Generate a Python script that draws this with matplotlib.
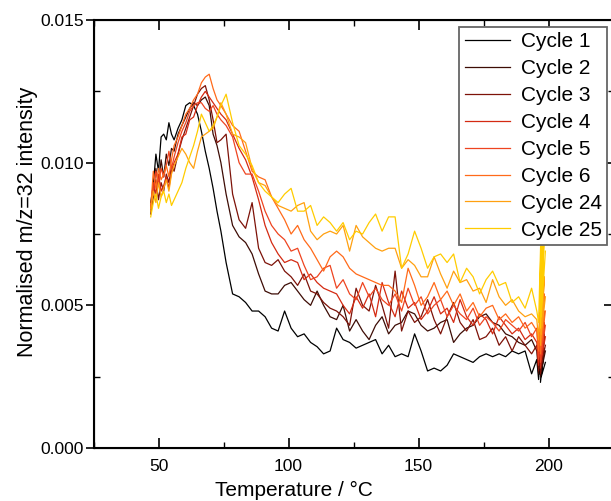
import matplotlib
matplotlib.use("Agg")
from matplotlib import pyplot as plt
from matplotlib.ticker import MultipleLocator
import numpy as np

plt.rcParams['font.family'] = ['Liberation Sans', 'DejaVu Sans']

# temperature grid (deg C); last 8 points are the hold at ~197 C
temp = [47, 48, 49, 50, 51, 52, 53, 54, 55, 56, 57.5, 59, 60.5, 62, 63.5, 65, 66.5, 68, 69.5, 71, 72.5, 74,
        76, 78.5, 81, 83.5, 86, 88.5, 91, 93.5, 96, 98.5,
        101, 103.5, 106, 108.5, 111, 113.5, 116, 118.5, 121, 123.5,
        126, 128.5, 131, 133.5, 136, 138.5, 141, 143.5, 146, 148.5,
        151, 153.5, 156, 158.5, 161, 163.5, 166, 168.5, 171, 173.5,
        176, 178.5, 181, 183.5, 186, 188.5, 191, 193.5, 195.5,
        196.2, 197.4, 196.6, 198.0, 196.9, 198.4, 197.2, 198.8]

# normalised intensity, in units of 1e-3
cycle1 = [8.6, 9.2, 10.3, 9.7, 10.9, 11.0, 10.8, 11.4, 11.0, 10.8, 11.2, 11.5, 12.0, 12.1, 12.0, 11.7, 11.1, 10.4, 9.8, 9.1, 8.3, 7.6,
          6.5, 5.4, 5.3, 5.1, 4.8, 4.8, 4.6, 4.2, 4.1, 4.8,
          4.2, 3.9, 4.0, 3.7, 3.55, 3.3, 3.4, 4.2, 3.8, 3.7,
          3.5, 3.6, 3.7, 3.8, 3.3, 3.6, 3.2, 3.3, 3.2, 4.0,
          3.4, 2.7, 2.8, 2.7, 2.9, 3.3, 3.2, 3.1, 3.0, 3.2,
          3.3, 3.2, 3.3, 3.2, 3.4, 3.3, 3.4, 2.6, 3.1,
          2.4, 4.2, 2.6, 3.8, 2.3, 3.5, 2.5, 3.0]
cycle2 = [8.3, 9.0, 9.8, 9.2, 10.1, 9.5, 10.3, 9.9, 10.5, 10.4, 11.0, 11.3, 11.6, 11.9, 12.1, 12.0, 12.2, 12.3, 12.0, 11.0, 10.6, 10.0,
          8.9, 7.8, 7.4, 7.2, 6.8, 6.1, 5.5, 5.4, 5.4, 5.7,
          5.8, 5.5, 5.2, 5.0, 5.5, 5.0, 4.6, 4.5, 5.0, 4.1,
          4.5, 4.1, 3.8, 4.3, 4.6, 4.0, 4.3, 4.4, 4.8, 4.7,
          4.3, 4.1, 4.2, 4.4, 4.5, 3.7, 4.0, 4.2, 4.3, 4.6,
          4.7, 4.4, 4.3, 4.0, 3.9, 3.7, 3.6, 3.8, 3.4,
          2.6, 4.6, 2.8, 4.2, 2.5, 3.9, 2.7, 3.4]
cycle3 = [8.2, 8.8, 9.4, 8.7, 9.3, 9.0, 9.6, 9.3, 9.9, 9.7, 10.3, 10.8, 11.2, 11.6, 12.0, 12.4, 12.6, 12.7, 12.2, 11.5, 10.7, 10.8,
          11.0, 8.9, 8.0, 7.7, 8.6, 7.0, 6.5, 6.4, 6.6, 6.2,
          6.0, 5.7, 6.1, 5.5, 5.4, 5.1, 4.9, 4.8, 4.6, 4.3,
          5.6, 5.0, 4.8, 5.7, 5.0, 4.2, 6.2, 4.1, 4.8, 4.4,
          4.6, 5.2, 4.5, 4.0, 4.6, 5.1, 4.4, 4.1, 4.5, 3.8,
          3.9, 4.2, 3.6, 3.9, 3.4, 3.9, 3.6, 3.3, 3.6,
          2.7, 4.8, 3.0, 4.4, 2.6, 4.0, 2.9, 3.6]
cycle4 = [8.4, 9.3, 8.9, 9.6, 9.0, 9.2, 9.5, 9.1, 9.7, 10.0, 10.3, 10.9, 11.0, 11.5, 11.6, 12.0, 12.3, 12.5, 12.3, 12.1, 11.9, 11.7,
          11.5, 11.0, 10.5, 10.1, 9.5, 8.7, 7.8, 7.2, 6.8, 6.5,
          6.6, 6.5, 5.9, 6.1, 5.8, 5.6, 5.5, 5.4, 5.0, 4.7,
          5.3, 4.9, 5.4, 4.6, 5.8, 5.1, 4.6, 5.5, 4.9, 5.1,
          4.5, 4.8, 5.3, 4.7, 4.9, 4.4, 5.2, 4.6, 4.3, 4.7,
          4.5, 4.0, 4.6, 4.3, 4.0, 4.2, 3.8, 4.0, 3.7,
          2.9, 5.2, 3.2, 4.8, 2.8, 4.4, 3.1, 3.9]
cycle5 = [8.5, 9.0, 9.7, 9.3, 9.8, 9.5, 9.9, 10.4, 9.8, 10.2, 10.7, 11.1, 11.4, 11.8, 12.0, 12.1, 12.1, 11.9, 11.8, 12.0, 11.7, 11.5,
          11.3, 10.9, 10.0, 9.6, 9.6, 9.0, 8.3, 7.8, 7.5, 7.3,
          6.9, 7.0, 6.4, 5.9, 6.0, 6.3, 6.4, 5.6, 5.9, 5.4,
          5.2, 5.8, 5.3, 5.6, 5.2, 5.0, 5.4, 4.8, 5.6, 5.0,
          5.3, 4.7, 5.0, 5.2, 4.6, 5.0, 4.7, 4.5, 4.9, 4.3,
          4.6, 4.4, 4.1, 4.5, 4.3, 4.1, 4.4, 3.9, 4.2,
          3.1, 5.6, 3.4, 5.2, 3.0, 4.8, 3.3, 4.3]
cycle6 = [8.4, 9.7, 9.1, 9.8, 9.4, 9.6, 9.9, 9.5, 10.1, 10.6, 10.9, 11.3, 11.7, 11.9, 12.2, 12.4, 12.8, 13.0, 13.1, 12.6, 12.2, 12.0,
          11.7, 11.3, 11.1, 10.4, 9.7, 9.5, 9.4, 8.8, 8.4, 8.0,
          7.5, 7.8, 7.3, 7.0, 6.6, 6.2, 6.7, 6.9, 6.7, 6.3,
          6.1, 6.0, 5.9, 5.8, 5.7, 5.7, 5.5, 5.1, 6.3, 5.7,
          5.0, 5.3, 5.8, 5.2, 5.5, 5.0, 5.4, 4.8, 5.1, 4.6,
          4.9, 5.0, 4.5, 4.7, 4.4, 4.6, 4.2, 4.4, 4.1,
          3.4, 6.2, 3.7, 5.8, 3.3, 5.4, 3.6, 4.8]
cycle24 = [8.3, 9.0, 8.6, 9.3, 8.8, 9.1, 9.4, 9.0, 9.6, 9.9, 10.2, 10.5, 10.3, 10.0, 9.8, 10.4, 10.9, 11.0, 11.1, 11.2, 11.6, 12.1,
           11.7, 11.0, 10.9, 10.7, 9.8, 9.3, 9.2, 8.8, 8.5, 8.4,
           8.3, 8.5, 8.6, 7.6, 7.3, 7.5, 7.6, 7.5, 7.8, 6.9,
           7.8, 7.4, 7.2, 7.0, 6.9, 7.0, 7.0, 6.3, 6.6, 6.4,
           6.0, 6.0, 6.7, 6.1, 5.6, 6.2, 5.8, 5.9, 5.5, 5.6,
           5.1, 5.9, 5.3, 5.0, 5.2, 4.8, 4.6, 4.7, 4.5,
           3.8, 7.2, 4.1, 6.6, 3.6, 6.0, 4.0, 5.3]
cycle25 = [8.1, 8.6, 8.9, 8.4, 8.8, 9.0, 8.6, 8.9, 8.5, 8.7, 9.0, 9.3, 9.8, 10.2, 10.6, 11.1, 11.7, 11.4, 11.1, 11.3, 11.6, 12.0,
           12.4, 11.4, 10.6, 10.3, 9.9, 9.3, 9.0, 8.8, 8.6, 8.9,
           9.1, 8.3, 8.3, 8.5, 7.8, 8.1, 7.9, 7.6, 7.9, 7.3,
           7.6, 7.5, 7.9, 8.2, 7.6, 8.1, 8.1, 6.3, 6.8, 7.6,
           7.0, 6.3, 6.7, 6.8, 6.5, 6.8, 5.8, 6.3, 6.0, 5.4,
           5.9, 6.2, 5.7, 5.8, 5.1, 5.3, 4.9, 5.6, 4.8,
           4.4, 8.6, 4.8, 8.1, 4.2, 7.6, 4.6, 6.9]

labels = ["Cycle 1", "Cycle 2", "Cycle 3", "Cycle 4", "Cycle 5", "Cycle 6", "Cycle 24", "Cycle 25"]
series = [cycle1, cycle2, cycle3, cycle4, cycle5, cycle6, cycle24, cycle25]
colors = ["#000000", "#3d0c05", "#7d1208", "#d42a12", "#ee4420", "#ff6a1a", "#ffa010", "#ffcc00"]

fig = plt.figure(figsize=(6.11, 5.01), dpi=100)
ax = fig.add_axes([93.5 / 611, 53 / 501, 520 / 611, 428 / 501])

for vals, lab, col in zip(series, labels, colors):
    ax.plot(temp, np.array(vals) * 1e-3, color=col, lw=0.9, label=lab)

ax.set_xlim(25, 225)
ax.set_ylim(0, 0.015)
ax.xaxis.set_major_locator(MultipleLocator(50))
ax.xaxis.set_minor_locator(MultipleLocator(25))
ax.yaxis.set_major_locator(MultipleLocator(0.005))
ax.yaxis.set_minor_locator(MultipleLocator(0.0025))
ax.yaxis.set_major_formatter(matplotlib.ticker.FormatStrFormatter('%.3f'))

ax.tick_params(axis='x', which='both', direction='in', top=True, labelsize=12.5, pad=8)
ax.tick_params(axis='x', which='major', length=7, width=1.2)
ax.tick_params(axis='x', which='minor', length=4, width=1.0)
ax.tick_params(axis='y', which='major', direction='out', right=False, length=6, width=1.2, labelsize=12.5, pad=1)
ax.tick_params(axis='y', which='minor', direction='in', length=4, width=1.0)
for s in ax.spines.values():
    s.set_linewidth(1.5)

# inward ticks on the right spine
ax_r = ax.twinx()
ax_r.set_ylim(ax.get_ylim())
ax_r.yaxis.set_major_locator(MultipleLocator(0.005))
ax_r.yaxis.set_minor_locator(MultipleLocator(0.0025))
ax_r.tick_params(axis='y', which='both', direction='in', labelright=False)
ax_r.tick_params(axis='y', which='major', length=7, width=1.2)
ax_r.tick_params(axis='y', which='minor', length=4, width=1.0)

ax.set_xlabel("Temperature / °C", fontsize=15)
ax.set_ylabel("Normalised m/z=32 intensity", fontsize=15.5)
ax.xaxis.set_label_coords((294 - 93.5) / 520, (448 - 481) / 428)
ax.yaxis.set_label_coords((38 - 93.5) / 520, (448 - 222) / 428)

leg = ax_r.legend(*ax.get_legend_handles_labels(), loc='upper right',
                  bbox_to_anchor=(607 / 611, 474 / 501), bbox_transform=fig.transFigure,
                  fontsize=15, frameon=True, fancybox=False, framealpha=1,
                  handlelength=2.2, labelspacing=0.38, borderaxespad=0.0, handletextpad=0.5,
                  borderpad=0.25)
leg.get_frame().set_edgecolor('#666666')
leg.get_frame().set_linewidth(1.3)

fig.savefig("out.png", dpi=100)
